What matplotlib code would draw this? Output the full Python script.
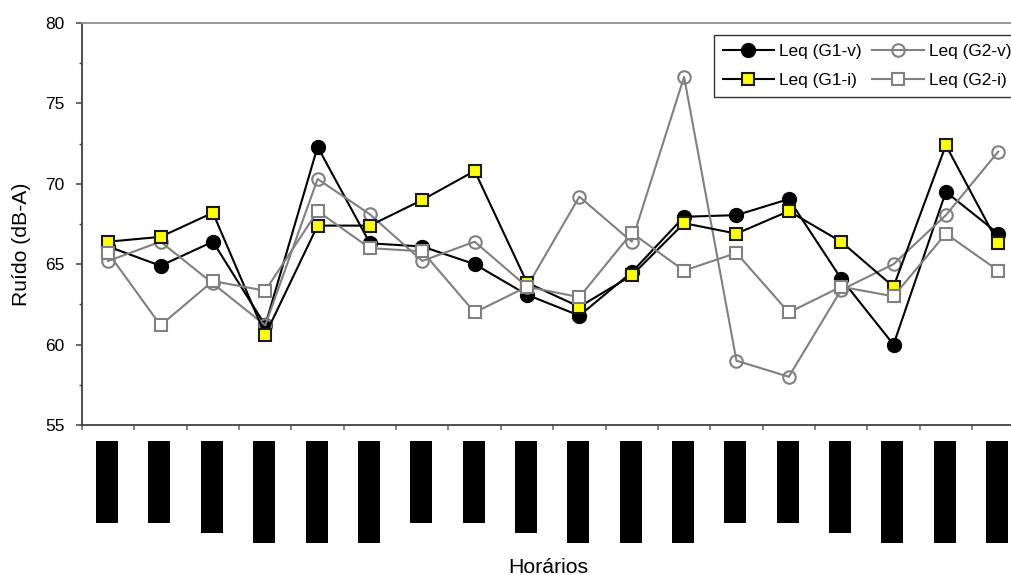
import matplotlib
matplotlib.use("Agg")
import matplotlib.pyplot as plt
from matplotlib.patches import Rectangle
from matplotlib.transforms import blended_transform_factory
from matplotlib.ticker import MultipleLocator, NullFormatter
import numpy as np

plt.rcParams['font.family'] = ['Liberation Sans', 'DejaVu Sans']

# Noise levels (dB-A) for each measurement period
leq_g1_v = [66.1, 64.9, 66.4, 61.2, 72.3, 66.3, 66.1, 65.0, 63.1, 61.8,
            64.5, 67.95, 68.05, 69.05, 64.1, 60.0, 69.5, 66.9]
leq_g1_i = [66.4, 66.7, 68.2, 60.6, 67.4, 67.4, 69.0, 70.8, 63.85, 62.35,
            64.3, 67.55, 66.9, 68.3, 66.4, 63.6, 72.4, 66.3]
leq_g2_v = [65.2, 66.4, 63.8, 61.2, 70.3, 68.1, 65.2, 66.4, 63.6, 69.2,
            66.4, 76.65, 59.0, 58.0, 63.4, 65.0, 68.05, 72.0]
leq_g2_i = [65.7, 61.2, 63.95, 63.35, 68.3, 66.0, 65.8, 62.0, 63.6, 62.95,
            66.95, 64.6, 65.7, 62.0, 63.6, 63.0, 66.9, 64.6]

# Relative length of each period label block (1 = short, 2 = medium, 3 = long)
label_block = [1, 1, 2, 3, 3, 3, 1, 1, 2, 3, 3, 3, 1, 1, 2, 3, 3, 3]

W, H = 1011, 575
fig = plt.figure(figsize=(W / 100, H / 100), dpi=100)
ax = fig.add_axes([82 / W, 1 - 425 / H, 942.4 / W, 402 / H])

x = np.arange(len(leq_g1_v)) + 0.5
gray = '#808080'

l1, = ax.plot(x, leq_g1_v, color='black', lw=1.5, marker='o', ms=10,
              mfc='black', mec='black', zorder=3, label='Leq (G1-v)')
l3, = ax.plot(x, leq_g2_v, color=gray, lw=1.5, marker='o', ms=9,
              mfc='none', mec=gray, mew=1.5, zorder=4, label='Leq (G2-v)')
l2, = ax.plot(x, leq_g1_i, color='black', lw=1.5, marker='s', ms=9,
              mfc='#FFFF00', mec='#1a1a1a', mew=1.5, zorder=5, label='Leq (G1-i)')
l4, = ax.plot(x, leq_g2_i, color=gray, lw=1.5, marker='s', ms=9,
              mfc='white', mec=gray, mew=1.5, zorder=6, label='Leq (G2-i)')

ax.set_xlim(0, len(x))
ax.set_ylim(55, 80)
ax.yaxis.set_major_locator(MultipleLocator(5))
ax.yaxis.set_minor_locator(MultipleLocator(2.5))
ax.set_xticks(np.arange(len(x) + 1))
ax.xaxis.set_major_formatter(NullFormatter())

for side in ('left', 'bottom'):
    ax.spines[side].set_color('#404040')
    ax.spines[side].set_linewidth(1.3)
ax.spines['top'].set_color('#909090')
ax.spines['top'].set_linewidth(1.3)
ax.spines['right'].set_visible(False)

ax.tick_params(axis='y', which='major', direction='out', length=4.5, width=1.1,
               color='#404040', labelsize=12.5, pad=8)
ax.tick_params(axis='y', which='minor', direction='out', length=2.3, width=1.0,
               color='#404040')
ax.tick_params(axis='x', which='major', direction='out', length=3.5, width=1.1,
               color='#606060')

# Period label blocks below the axis
trans = blended_transform_factory(ax.transData, fig.transFigure)
top_px = 441
depth_px = {1: 82, 2: 92, 3: 102}
bw = 22 / (942.4 / len(x))
for xi, kind in zip(x, label_block):
    h = depth_px[kind]
    ax.add_patch(Rectangle((xi - 0.5 * bw - 0.02, 1 - (top_px + h) / H), bw, h / H,
                           transform=trans, facecolor='black', edgecolor='none',
                           clip_on=False))

fig.text(22 / W, 1 - 244 / H, 'Ruído (dB-A)', rotation=90, ha='center',
         va='center', fontsize=15.2)
fig.text(548 / W, 1 - 573 / H, 'Horários', ha='center', va='baseline',
         fontsize=15.3)

leg = ax.legend(handles=[l1, l2, l3, l4], ncol=2, loc='upper left',
                bbox_to_anchor=(714 / W, 1 - 35 / H), bbox_transform=fig.transFigure,
                fontsize=12.4, frameon=True, fancybox=False, handlelength=3.0,
                handletextpad=0.3, columnspacing=0.6, borderpad=0.5,
                labelspacing=0.85, borderaxespad=0)
leg.get_frame().set_edgecolor('black')
leg.get_frame().set_linewidth(1.0)

fig.savefig('out.png', dpi=100)
